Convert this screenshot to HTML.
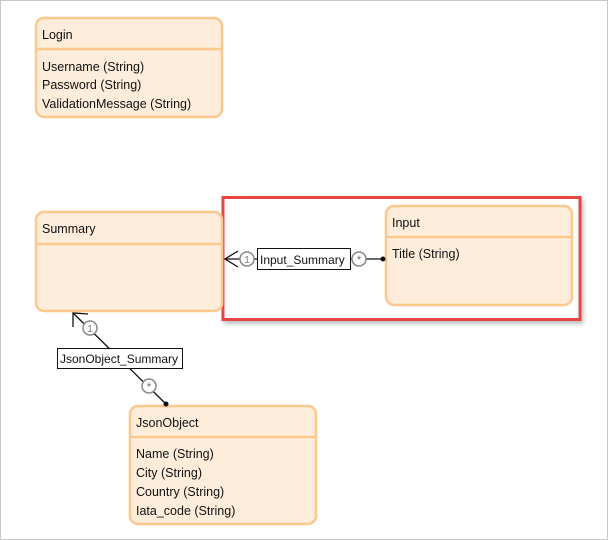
<!DOCTYPE html>
<html><head><style>
html,body{margin:0;padding:0;background:#fff;}
svg{display:block;}
text{font-family:"Liberation Sans",sans-serif;font-size:12.5px;fill:#111;}
</style></head><body>
<svg width="608" height="540" viewBox="0 0 608 540">
<rect x="0.5" y="0.5" width="607" height="539" fill="#fff" stroke="#c8c8c8"/>
<defs><filter id="sh" x="-5%" y="-5%" width="115%" height="120%"><feDropShadow dx="2" dy="3" stdDeviation="2" flood-color="#000" flood-opacity="0.25"/></filter></defs>
<rect x="223" y="197.5" width="357" height="122" fill="#fff" stroke="#e84545" stroke-width="3" filter="url(#sh)"/>
<g fill="#fdedda" stroke="#fcc88c" stroke-width="2.5">
<rect x="36" y="18" width="186" height="99" rx="8"/>
<rect x="36" y="212" width="186" height="99" rx="8"/>
<rect x="386" y="206" width="186" height="99" rx="8"/>
<rect x="130" y="406" width="186" height="118" rx="8"/>
</g>
<g stroke="#fcc88c" stroke-width="2.5">
<line x1="36" y1="49" x2="222" y2="49"/>
<line x1="36" y1="244" x2="222" y2="244"/>
<line x1="386" y1="237" x2="572" y2="237"/>
<line x1="130" y1="437" x2="316" y2="437"/>
</g>
<text x="42" y="39">Login</text>
<text x="42" y="71">Username (String)</text>
<text x="42" y="89">Password (String)</text>
<text x="42" y="108">ValidationMessage (String)</text>
<text x="42" y="233">Summary</text>
<text x="392" y="227">Input</text>
<text x="392" y="258">Title (String)</text>
<text x="136" y="427">JsonObject</text>
<text x="136" y="458">Name (String)</text>
<text x="136" y="477">City (String)</text>
<text x="136" y="496">Country (String)</text>
<text x="136" y="515">Iata_code (String)</text>
<g stroke="#111" stroke-width="1.3" fill="none">
<line x1="225" y1="259" x2="384" y2="259"/>
<polyline points="238,251 225,259 238,267"/>
<line x1="73" y1="313" x2="167" y2="405"/>
<polyline points="73,327 73,313 88,314"/>
</g>
<circle cx="383" cy="259" r="2.5" fill="#111"/>
<circle cx="166" cy="404" r="2.5" fill="#111"/>
<g fill="#fff" stroke="#888" stroke-width="1.5">
<circle cx="247" cy="259" r="7"/>
<circle cx="359" cy="259" r="7"/>
<circle cx="90" cy="328" r="7"/>
<circle cx="149" cy="386" r="7"/>
</g>
<g font-size="10" fill="#777" text-anchor="middle">
<text x="247" y="263" style="font-size:10px;fill:#777">1</text>
<text x="359" y="264" style="font-size:12px;fill:#777">*</text>
<text x="90" y="332" style="font-size:10px;fill:#777">1</text>
<text x="149" y="391" style="font-size:12px;fill:#777">*</text>
</g>
<rect x="257.5" y="248.5" width="93" height="21" fill="#fff" stroke="#111"/>
<text x="260" y="264" style="font-size:12px">Input_Summary</text>
<rect x="57.5" y="348.5" width="125" height="20" fill="#fff" stroke="#111"/>
<text x="60" y="363" style="font-size:12px">JsonObject_Summary</text>
</svg>
</body></html>
